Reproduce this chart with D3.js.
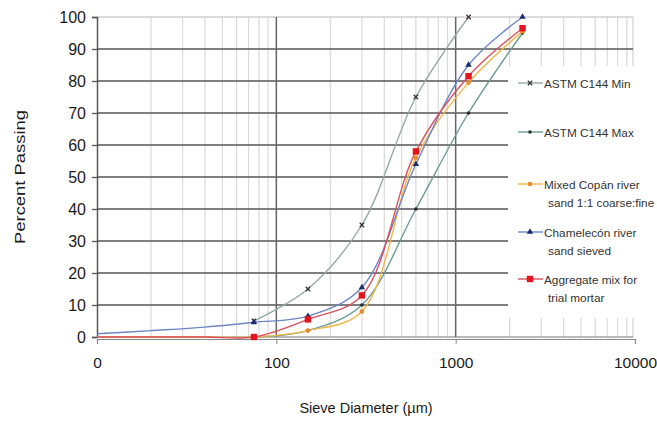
<!DOCTYPE html>
<html>
<head>
<meta charset="utf-8">
<script src="https://cdn.jsdelivr.net/npm/d3@7"></script>
<style>
  body { margin: 0; background: #fff; }
  text { font-family: "Liberation Sans", Arial, sans-serif; }
</style>
</head>
<body>
<div id="chart"></div>
<script>
// sieve openings (µm) where samples were measured
const sieveSizes = [75, 150, 300, 600, 1180, 2360];
const fineSizes = [10, 20, 40];

// percent passing per series (null = not plotted)
const astmMin = [5, 15, 35, 75, 100, null];
const astmMax = [0, 2, 10, 40, 70, 95];
const copan = [0, 2, 8, 56, 79.5, 95.5];
const copanFine = [0, 0, 0];
const chamelecon = [4.6, 6.5, 15.5, 54, 85, 100];
const chameleconFine = [1, 2, 3.1];
const aggregate = [0, 5.5, 13, 58, 81.5, 96.5];
const aggregateFine = [0, 0, 0];

const yTicks = [0, 10, 20, 30, 40, 50, 60, 70, 80, 90, 100];
const xTicks = [10, 100, 1000, 10000];
const xTickLabels = ["0", "100", "1000", "10000"];

const series = [
  { name: ["ASTM C144 Min"], fine: null, vals: astmMin, line: "#93aba3", mark: "x", mcol: "#333" },
  { name: ["ASTM C144 Max"], fine: null, vals: astmMax, line: "#6a9c98", mark: "dot", mcol: "#2a2a2a" },
  { name: ["Mixed Copán river", "sand 1:1 coarse:fine"], fine: copanFine, vals: copan, line: "#f2b84a", mark: "circle", mcol: "#e8892a" },
  { name: ["Chamelecón river", "sand sieved"], fine: chameleconFine, vals: chamelecon, line: "#6f86c4", mark: "tri", mcol: "#1c2a6e" },
  { name: ["Aggregate mix for", "trial mortar"], fine: aggregateFine, vals: aggregate, line: "#d9505e", mark: "square", mcol: "#e3141e" }
];

const W = 657, H = 424;
const margin = { top: 17, left: 97 };
const plotW = 538, plotH = 320;

const svg = d3.select("#chart").append("svg").attr("width", W).attr("height", H);

const x = d3.scaleLog().domain([10, 10000]).range([margin.left, margin.left + plotW]);
const y = d3.scaleLinear().domain([0, 100]).range([margin.top + plotH, margin.top]);

// minor vertical grid
const minor = [];
[10, 100, 1000].forEach(d => { for (let k = 2; k <= 9; k++) minor.push(d * k); });
svg.append("g").selectAll("line").data(minor).join("line")
  .attr("x1", d => x(d)).attr("x2", d => x(d))
  .attr("y1", y(100)).attr("y2", y(0))
  .attr("stroke", "#d9d9d9").attr("stroke-width", 1.2);

// top and right border (light)
svg.append("line").attr("x1", x(10)).attr("x2", x(10000) - 2).attr("y1", y(100)).attr("y2", y(100))
  .attr("stroke", "#cfcfcf").attr("stroke-width", 1.4);
svg.append("line").attr("x1", x(10000) - 2).attr("x2", x(10000) - 2).attr("y1", y(100)).attr("y2", y(0))
  .attr("stroke", "#cfcfcf").attr("stroke-width", 1.2);

// horizontal grid (dark)
svg.append("g").selectAll("line").data(yTicks.filter(d => d > 0 && d < 100)).join("line")
  .attr("x1", x(10)).attr("x2", x(10000) - 2)
  .attr("y1", d => y(d)).attr("y2", d => y(d))
  .attr("stroke", "#555").attr("stroke-width", 1.4);

// major vertical grid
svg.append("g").selectAll("line").data([100, 1000]).join("line")
  .attr("x1", d => x(d)).attr("x2", d => x(d))
  .attr("y1", y(100)).attr("y2", y(0))
  .attr("stroke", "#666").attr("stroke-width", 1.5);

// y axis
const yAxis = d3.axisLeft(y).tickValues(yTicks).tickSize(5).tickPadding(6);
const yg = svg.append("g").attr("transform", `translate(${x(10)},0)`).call(yAxis);
yg.select(".domain").attr("stroke", "#555").attr("stroke-width", 1.5);
yg.selectAll(".tick line").attr("stroke", "#555").attr("stroke-width", 1.3);
yg.selectAll("text").attr("font-size", 16).attr("fill", "#1a1a1a");

// x axis
const xAxis = d3.axisBottom(x).tickValues(xTicks).tickSize(5).tickPadding(13)
  .tickFormat((d, i) => xTickLabels[i]);
const xg = svg.append("g").attr("transform", `translate(0,${y(0) + 2})`).call(xAxis);
xg.select(".domain").attr("stroke", "#888").attr("stroke-width", 1.2);
xg.selectAll(".tick line").attr("stroke", "#888");
xg.selectAll("text").attr("font-size", 15.5).attr("fill", "#1a1a1a");

// zero line
svg.append("line").attr("x1", x(10)).attr("x2", x(10000) - 2).attr("y1", y(0)).attr("y2", y(0))
  .attr("stroke", "#777").attr("stroke-width", 1.2);

// axis titles
svg.append("text").attr("transform", `translate(25,${y(50)}) rotate(-90)`)
  .attr("text-anchor", "middle").attr("font-size", 15).attr("fill", "#1a1a1a")
  .attr("textLength", 134).attr("lengthAdjust", "spacingAndGlyphs").text("Percent Passing");
svg.append("text").attr("x", 366).attr("y", 413).attr("text-anchor", "middle")
  .attr("font-size", 14.5).attr("fill", "#1a1a1a").text("Sieve Diameter (µm)");

// marker drawing
function drawMarker(g, type, color, cx, cy) {
  if (type === "x") {
    g.append("path").attr("d", d3.symbol(d3.symbolX, 14)()).attr("transform", `translate(${cx},${cy})`)
      .attr("stroke", color).attr("stroke-width", 1.3).attr("fill", "none");
  } else if (type === "dot") {
    g.append("circle").attr("cx", cx).attr("cy", cy).attr("r", 1.8).attr("fill", color);
  } else if (type === "circle") {
    g.append("circle").attr("cx", cx).attr("cy", cy).attr("r", 2.3).attr("fill", color);
  } else if (type === "tri") {
    g.append("path").attr("d", d3.symbol(d3.symbolTriangle, 18)()).attr("transform", `translate(${cx},${cy})`)
      .attr("fill", color);
  } else {
    g.append("rect").attr("x", cx - 3.2).attr("y", cy - 3.2).attr("width", 6.4).attr("height", 6.4).attr("fill", color);
  }
}

const line = d3.line().x(d => x(d[0])).y(d => y(d[1])).curve(d3.curveCatmullRom.alpha(0.5));

const plot = svg.append("g");
series.forEach(s => {
  const pts = sieveSizes.map((d, i) => [d, s.vals[i]]).filter(p => p[1] != null);
  const all = s.fine ? fineSizes.map((d, i) => [d, s.fine[i]]).concat(pts) : pts;
  plot.append("path").datum(all).attr("d", line)
    .attr("fill", "none").attr("stroke", s.line).attr("stroke-width", 1.4);
});
series.forEach(s => {
  sieveSizes.forEach((d, i) => {
    if (s.vals[i] != null) drawMarker(plot, s.mark, s.mcol, x(d), y(s.vals[i]));
  });
});

// legend
const lg = svg.append("g");
lg.append("rect").attr("x", 508).attr("y", 66).attr("width", 149).attr("height", 252).attr("fill", "#fff");
const legendY = [83, 132, 184, 232, 279];
series.forEach((s, i) => {
  const ly = legendY[i];
  lg.append("line").attr("x1", 518).attr("x2", 543).attr("y1", ly).attr("y2", ly)
    .attr("stroke", s.line).attr("stroke-width", 1.4);
  drawMarker(lg, s.mark, s.mcol, 530, ly);
  s.name.forEach((t, j) => {
    lg.append("text").attr("x", j === 0 ? 544 : 548).attr("y", ly + 4.5 + j * 18)
      .attr("font-size", 11.8).attr("fill", "#333").text(t);
  });
});
</script>
</body>
</html>
